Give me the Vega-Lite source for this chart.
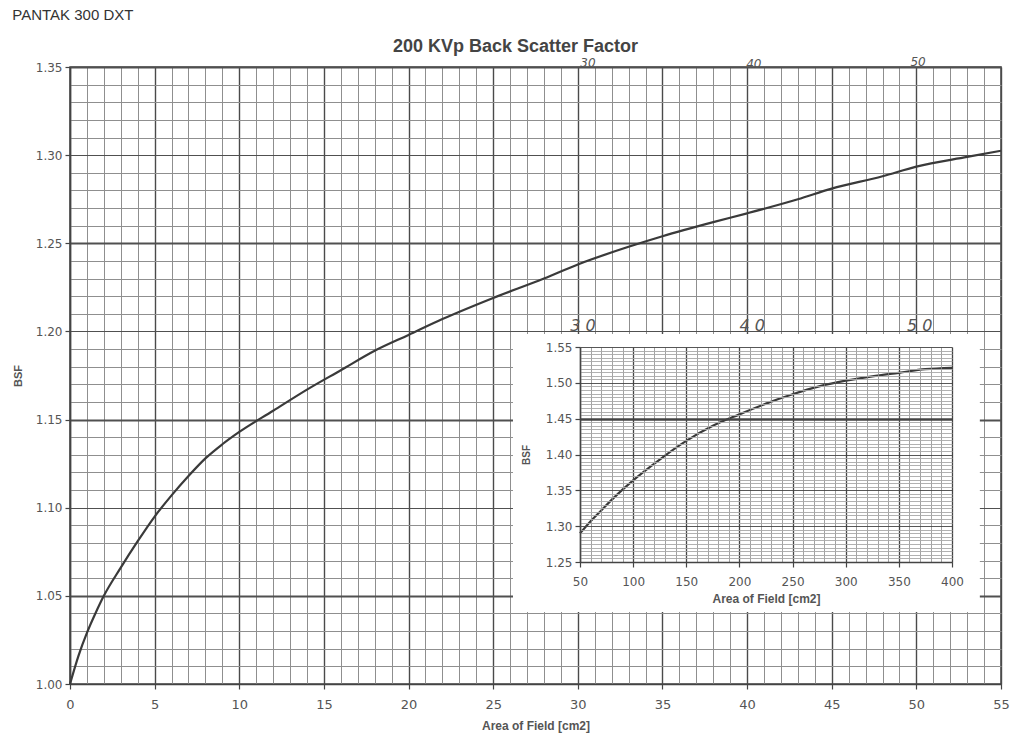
{
  "$schema": "https://vega.github.io/schema/vega-lite/v6.json",
  "width": 931,
  "height": 617,
  "autosize": {"type": "none"},
  "padding": {"left": 70, "top": 67, "right": 10, "bottom": 54},
  "background": "white",
  "title": {"text": "PANTAK 300 DXT", "anchor": "start", "fontSize": 15, "fontWeight": "normal", "font": "Liberation Sans", "color": "#333", "offset": 14},
  "config": {"view": {"stroke": "#444", "strokeWidth": 1.5}},
  "datasets": {
    "main": [
      {"area": 0, "bsf": 1.000}, {"area": 0.5, "bsf": 1.016}, {"area": 1, "bsf": 1.029}, {"area": 1.5, "bsf": 1.040},
      {"area": 2, "bsf": 1.050}, {"area": 3, "bsf": 1.066}, {"area": 4, "bsf": 1.081}, {"area": 5, "bsf": 1.095},
      {"area": 6, "bsf": 1.107}, {"area": 7, "bsf": 1.118}, {"area": 8, "bsf": 1.128}, {"area": 9, "bsf": 1.136},
      {"area": 10, "bsf": 1.143}, {"area": 12, "bsf": 1.155}, {"area": 14, "bsf": 1.167}, {"area": 16, "bsf": 1.178},
      {"area": 18, "bsf": 1.189}, {"area": 20, "bsf": 1.198}, {"area": 22, "bsf": 1.207}, {"area": 25, "bsf": 1.219},
      {"area": 28, "bsf": 1.230}, {"area": 30, "bsf": 1.238}, {"area": 33, "bsf": 1.248}, {"area": 35, "bsf": 1.254},
      {"area": 38, "bsf": 1.262}, {"area": 40, "bsf": 1.267}, {"area": 43, "bsf": 1.275}, {"area": 45, "bsf": 1.281},
      {"area": 48, "bsf": 1.288}, {"area": 50, "bsf": 1.2935}, {"area": 53, "bsf": 1.299}, {"area": 55, "bsf": 1.3025}
    ],
    "inset": [
      {"area": 50, "bsf": 1.290}, {"area": 60, "bsf": 1.307}, {"area": 70, "bsf": 1.322}, {"area": 80, "bsf": 1.337},
      {"area": 90, "bsf": 1.351}, {"area": 100, "bsf": 1.364}, {"area": 125, "bsf": 1.393}, {"area": 150, "bsf": 1.419},
      {"area": 175, "bsf": 1.440}, {"area": 200, "bsf": 1.456}, {"area": 225, "bsf": 1.471}, {"area": 250, "bsf": 1.484},
      {"area": 275, "bsf": 1.495}, {"area": 300, "bsf": 1.503}, {"area": 325, "bsf": 1.509}, {"area": 350, "bsf": 1.514},
      {"area": 375, "bsf": 1.519}, {"area": 400, "bsf": 1.521}
    ],
    "box": [{"area": 26.17, "area2": 53.75, "bsf": 1.1986, "bsf2": 1.0409}],
    "notesTop": [
      {"area": 30.6, "bsf": 1.3525, "label": "30"},
      {"area": 40.4, "bsf": 1.3515, "label": "40"},
      {"area": 50.1, "bsf": 1.3530, "label": "50"}
    ],
    "notesInset": [
      {"area": 30.3, "bsf": 1.2031, "label": "3 0"},
      {"area": 40.3, "bsf": 1.2031, "label": "4 0"},
      {"area": 50.2, "bsf": 1.2031, "label": "5 0"}
    ]
  },
  "layer": [
    {
      "layer": [
        {
          "data": {"name": "main"},
          "mark": {"type": "line", "color": "#3a3a3a", "strokeWidth": 2.2, "interpolate": "monotone"},
          "encoding": {
            "x": {
              "field": "area", "type": "quantitative",
              "scale": {"domain": [0, 55], "nice": false, "zero": false},
              "axis": {
                "orient": "bottom", "tickCount": 200, "format": "d",
                "values": [0,1,2,3,4,5,6,7,8,9,10,11,12,13,14,15,16,17,18,19,20,21,22,23,24,25,26,27,28,29,30,31,32,33,34,35,36,37,38,39,40,41,42,43,44,45,46,47,48,49,50,51,52,53,54,55],
                "title": "Area of Field [cm2]",
                "titleFont": "Liberation Sans", "titleFontSize": 12, "titleFontWeight": "bold", "titleColor": "#555", "titlePadding": 9,
                "labelFont": "DejaVu Sans", "labelFontSize": 13, "labelColor": "#555",
                "labelExpr": "datum.value % 5 === 0 ? datum.label : ''",
                "labelFlush": false, "labelOverlap": false, "labelPadding": 9,
                "tickSize": 5, "tickWidth": 1.2,
                "tickColor": {"condition": {"test": "datum.value % 5 === 0", "value": "#444"}, "value": "transparent"},
                "domainColor": "#444", "domainWidth": 1.5,
                "grid": true,
                "gridColor": {"condition": {"test": "datum.value % 5 === 0", "value": "#4a4a4a"}, "value": "#8f8f8f"},
                "gridWidth": {"condition": {"test": "datum.value % 5 === 0", "value": 1.4}, "value": 1}
              }
            },
            "y": {
              "field": "bsf", "type": "quantitative",
              "scale": {"domain": [1, 1.35], "nice": false, "zero": false},
              "axis": {
                "orient": "left", "tickCount": 200,
                "values": [1,1.01,1.02,1.03,1.04,1.05,1.06,1.07,1.08,1.09,1.1,1.11,1.12,1.13,1.14,1.15,1.16,1.17,1.18,1.19,1.2,1.21,1.22,1.23,1.24,1.25,1.26,1.27,1.28,1.29,1.3,1.31,1.32,1.33,1.34,1.35],
                "format": ".2f",
                "title": "BSF",
                "titleFont": "Liberation Sans", "titleFontSize": 11, "titleFontWeight": "bold", "titleColor": "#555", "titlePadding": 12,
                "labelFont": "DejaVu Sans", "labelFontSize": 12, "labelColor": "#555",
                "labelExpr": "abs(datum.value*20 - round(datum.value*20)) < 0.001 ? datum.label : ''",
                "labelOverlap": false, "labelFlush": false, "labelPadding": 3,
                "tickSize": 5, "tickWidth": 1.2,
                "tickColor": {"condition": {"test": "abs(datum.value*20 - round(datum.value*20)) < 0.001", "value": "#444"}, "value": "transparent"},
                "domainColor": "#444", "domainWidth": 1.5,
                "grid": true,
                "gridColor": {"condition": {"test": "abs(datum.value*20 - round(datum.value*20)) < 0.001", "value": "#505050"}, "value": "#8f8f8f"},
                "gridWidth": {"condition": {"test": "abs(datum.value*20 - round(datum.value*20)) < 0.001 && round(datum.value*20) % 2 === 1", "value": 2}, "value": 1}
              }
            }
          }
        },
        {
          "data": {"name": "box"},
          "mark": {"type": "rect", "color": "white"},
          "encoding": {
            "x": {"field": "area", "type": "quantitative", "scale": {"domain": [0, 55], "nice": false, "zero": false}},
            "x2": {"field": "area2"},
            "y": {"field": "bsf", "type": "quantitative", "scale": {"domain": [1, 1.35], "nice": false, "zero": false}},
            "y2": {"field": "bsf2"}
          }
        },
        {
          "data": {"name": "notesTop"},
          "mark": {"type": "text", "font": "DejaVu Sans", "fontStyle": "italic", "fontSize": 12, "color": "#555", "baseline": "middle"},
          "encoding": {
            "x": {"field": "area", "type": "quantitative", "scale": {"domain": [0, 55], "nice": false, "zero": false}},
            "y": {"field": "bsf", "type": "quantitative", "scale": {"domain": [1, 1.35], "nice": false, "zero": false}},
            "text": {"field": "label"}
          }
        },
        {
          "data": {"name": "notesInset"},
          "mark": {"type": "text", "font": "DejaVu Sans", "fontStyle": "italic", "fontSize": 16, "color": "#555", "baseline": "middle"},
          "encoding": {
            "x": {"field": "area", "type": "quantitative", "scale": {"domain": [0, 55], "nice": false, "zero": false}},
            "y": {"field": "bsf", "type": "quantitative", "scale": {"domain": [1, 1.35], "nice": false, "zero": false}},
            "text": {"field": "label"}
          }
        }
      ]
    },
    {
      "data": {"name": "inset"},
      "layer": [
        {
          "mark": {"type": "line", "color": "#3a3a3a", "strokeWidth": 2.2, "interpolate": "monotone"},
          "encoding": {
            "x": {
              "field": "area", "type": "quantitative",
              "scale": {"domain": [50, 400], "range": [510, 882], "nice": false, "zero": false},
              "axis": {
                "orient": "bottom", "offset": -122, "zindex": 1, "tickCount": 200, "format": "d",
                "values": [50,100,150,200,250,300,350,400],
                "title": "Area of Field [cm2]",
                "titleFont": "Liberation Sans", "titleFontSize": 12, "titleFontWeight": "bold", "titleColor": "#555", "titlePadding": 6,
                "labelFont": "DejaVu Sans", "labelFontSize": 12, "labelColor": "#555",
                "labelFlush": false, "labelOverlap": false, "labelPadding": 9,
                "tickSize": 5, "tickColor": "#444", "tickWidth": 1.2,
                "domainColor": "#444", "domainWidth": 1.5,
                "grid": false
              }
            },
            "y": {
              "field": "bsf", "type": "quantitative",
              "scale": {"domain": [1.25, 1.55], "range": [495, 280], "nice": false, "zero": false},
              "axis": {
                "orient": "left", "offset": -510, "zindex": 1, "tickCount": 200,
                "values": [1.25,1.255,1.26,1.265,1.27,1.275,1.28,1.285,1.29,1.295,1.3,1.305,1.31,1.315,1.32,1.325,1.33,1.335,1.34,1.345,1.35,1.355,1.36,1.365,1.37,1.375,1.38,1.385,1.39,1.395,1.4,1.405,1.41,1.415,1.42,1.425,1.43,1.435,1.44,1.445,1.45,1.455,1.46,1.465,1.47,1.475,1.48,1.485,1.49,1.495,1.5,1.505,1.51,1.515,1.52,1.525,1.53,1.535,1.54,1.545,1.55],
                "format": ".2f",
                "title": "BSF",
                "titleFont": "Liberation Sans", "titleFontSize": 10, "titleFontWeight": "bold", "titleColor": "#555", "titlePadding": 14,
                "labelFont": "DejaVu Sans", "labelFontSize": 12, "labelColor": "#555",
                "labelExpr": "abs(datum.value*20 - round(datum.value*20)) < 0.001 ? datum.label : ''",
                "labelOverlap": false, "labelFlush": false, "labelPadding": 3,
                "tickSize": 5, "tickWidth": 1.2,
                "tickColor": {"condition": {"test": "abs(datum.value*20 - round(datum.value*20)) < 0.001", "value": "#444"}, "value": "transparent"},
                "domainColor": "#444", "domainWidth": 1.5,
                "grid": true,
                "gridColor": {"condition": {"test": "abs(datum.value*20 - round(datum.value*20)) < 0.001", "value": "#444"}, "value": "#a8a8a8"},
                "gridWidth": {"condition": {"test": "abs(datum.value - 1.45) < 0.001", "value": 2.5}, "value": 0.9}
              }
            }
          }
        },
        {
          "mark": {"type": "line", "opacity": 0},
          "encoding": {
            "x": {
              "field": "area", "type": "quantitative",
              "scale": {"domain": [50, 400], "range": [510, 882], "nice": false, "zero": false},
              "axis": {
                "orient": "top", "zindex": 1, "tickCount": 200,
                "values": [50,60,70,80,90,100,110,120,130,140,150,160,170,180,190,200,210,220,230,240,250,260,270,280,290,300,310,320,330,340,350,360,370,380,390,400],
                "labels": false, "ticks": false, "domain": false,
                "title": "200 KVp Back Scatter Factor",
                "titleFont": "Liberation Sans", "titleFontSize": 18, "titleFontWeight": "bold", "titleColor": "#444",
                "titleX": 445, "titleY": -16, "titleAlign": "center", "titleBaseline": "alphabetic", "titleAngle": 0,
                "grid": true,
                "gridColor": {"condition": {"test": "datum.value % 50 === 0", "value": "#444"}, "value": "#8a8a8a"},
                "gridWidth": {"condition": {"test": "datum.value % 50 === 0", "value": 1.3}, "value": 0.8}
              }
            },
            "y": {
              "field": "bsf", "type": "quantitative",
              "scale": {"domain": [1.25, 1.55], "range": [495, 280], "nice": false, "zero": false}
            }
          }
        }
      ],
      "resolve": {"axis": {"x": "independent"}}
    }
  ],
  "resolve": {"scale": {"x": "independent", "y": "independent"}, "axis": {"x": "independent", "y": "independent"}}
}
